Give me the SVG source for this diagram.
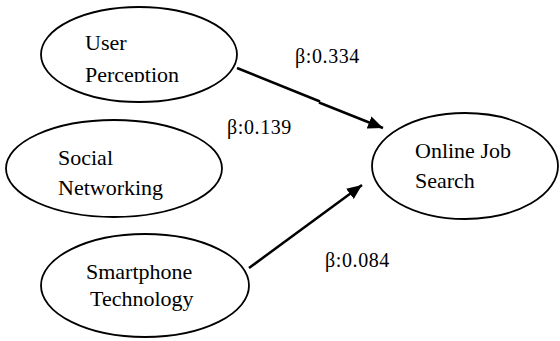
<svg xmlns="http://www.w3.org/2000/svg" width="560" height="341" viewBox="0 0 560 341">
  <style>
    .node ellipse { fill: #ffffff; stroke: #000000; stroke-width: 1.8; }
    .label { font-family: "Liberation Serif", "Times New Roman", serif; font-size: 22px; fill: #000000; }
    .beta { font-family: "Liberation Serif", "Times New Roman", serif; font-size: 20px; letter-spacing: 0.6px; fill: #000000; }
    .edge { fill: none; stroke: #000000; stroke-width: 2.5; }
  </style>
  <defs>
    <marker id="arrow" markerUnits="userSpaceOnUse" markerWidth="16" markerHeight="14" refX="15" refY="6.5" orient="auto">
      <path d="M0,0 L15,6.5 L0,13 z" fill="#000000"/>
    </marker>
    <!-- text box of the first node cuts its second line at the baseline -->
    <clipPath id="clip-user">
      <rect x="60" y="20" width="160" height="62"/>
    </clipPath>
  </defs>
  <rect width="560" height="341" fill="#ffffff"/>

  <g id="node-user-perception" class="node">
    <ellipse cx="139" cy="54.5" rx="98" ry="47.5"/>
    <g clip-path="url(#clip-user)">
      <text class="label" x="85" y="50">User</text>
      <text class="label" x="85" y="81.5">Perception</text>
    </g>
  </g>

  <g id="node-social-networking" class="node">
    <ellipse cx="114" cy="168.5" rx="108" ry="48.5"/>
    <text class="label" x="58" y="165">Social</text>
    <text class="label" x="58" y="195">Networking</text>
  </g>

  <g id="node-smartphone-technology" class="node">
    <ellipse cx="145" cy="285.5" rx="104" ry="51.5"/>
    <text class="label" x="86" y="279">Smartphone</text>
    <text class="label" x="90" y="306">Technology</text>
  </g>

  <g id="node-online-job-search" class="node">
    <ellipse cx="465" cy="166" rx="93" ry="53"/>
    <text class="label" x="415" y="158">Online Job</text>
    <text class="label" x="415" y="188">Search</text>
  </g>

  <g id="connectors">
    <path class="edge" d="M237,68 L320,101.5"/>
    <path class="edge" d="M319,102.5 L383,128" marker-end="url(#arrow)"/>
    <path class="edge" d="M249,268 L362,185" marker-end="url(#arrow)"/>
  </g>

  <g id="coefficients">
    <text class="beta" x="295" y="63">β:0.334</text>
    <text class="beta" x="227" y="134">β:0.139</text>
    <text class="beta" x="325" y="267">β:0.084</text>
  </g>
</svg>
